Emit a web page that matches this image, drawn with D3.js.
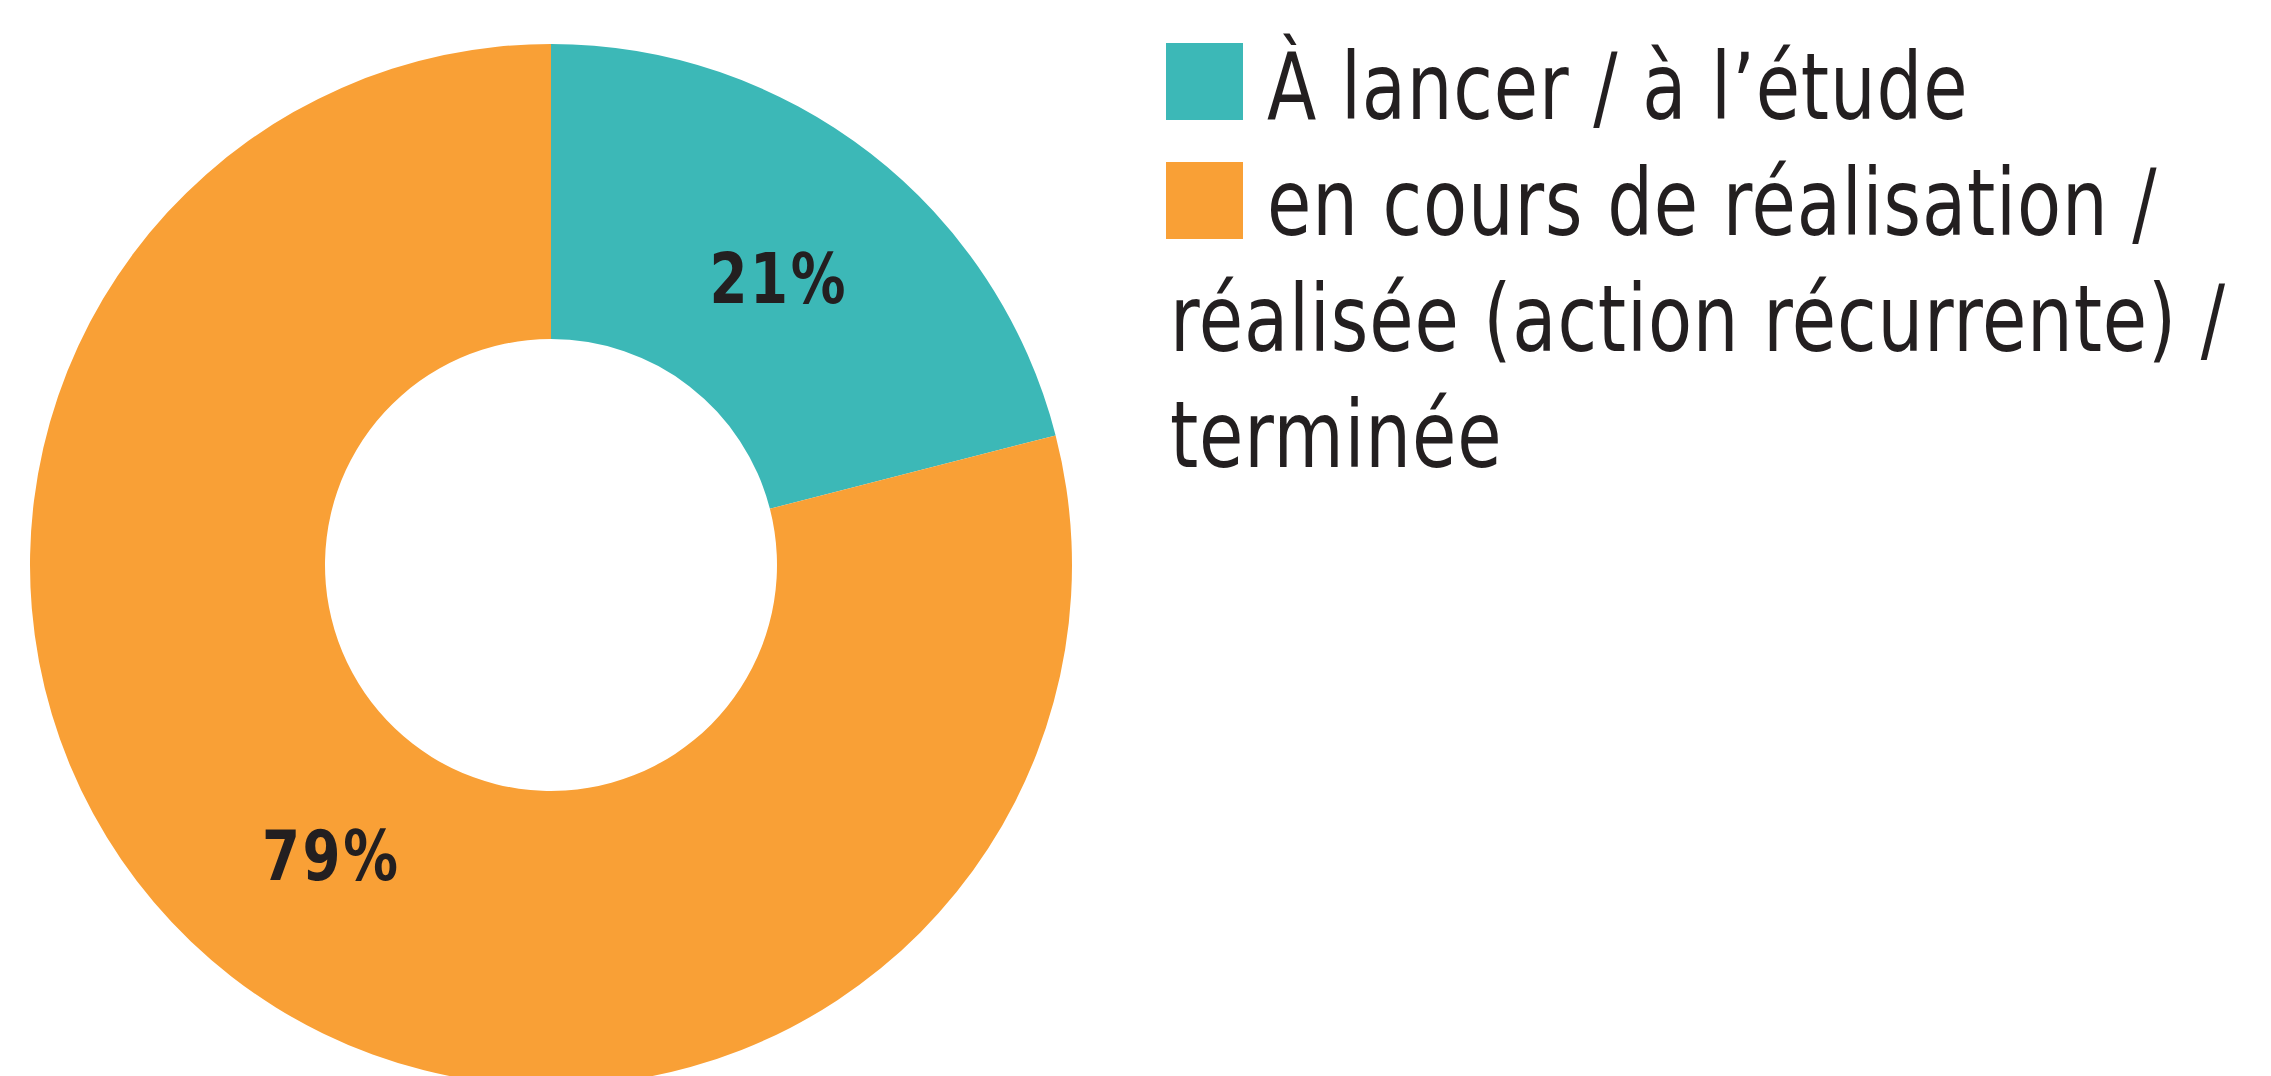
<!DOCTYPE html>
<html>
<head>
<meta charset="utf-8">
<script src="https://cdn.jsdelivr.net/npm/d3@7"></script>
<style>
  html, body { margin: 0; padding: 0; background: #fff; }
  svg { display: block; }
</style>
</head>
<body>
<div id="viz"></div>
<script>
// donut of action status, legend on the right

const categories = ["À lancer / à l’étude", "en cours de réalisation / réalisée (action récurrente) / terminée"];
const values = [21, 79];
const percentLabels = ["21%", "79%"];
const colors = ["#3cb8b7", "#f9a036"];
// legend text broken over lines like the original
const legendLines = [
    ["À lancer / à l’étude"],
    ["en cours de réalisation /", "réalisée (action récurrente) /", "terminée"]
];

function drawChart() {
    var dimensions = {
        width: 2271,
        height: 1076,
        cx: 551,
        cy: 565,
        outer: 521,
        inner: 226,
        labelR: 365
    }

    const fontStack = '"Liberation Sans Narrow", "DejaVu Sans Condensed", sans-serif';

    const viz = d3.select('#viz').append('svg')
        .attr('width', dimensions.width)
        .attr('height', dimensions.height)

    const donut = viz.append('g')
        .attr('transform', `translate(${dimensions.cx}, ${dimensions.cy})`)

    const pie = d3.pie().sort(null).value(d => d)
    const arcs = pie(values)

    const arc = d3.arc()
        .innerRadius(dimensions.inner)
        .outerRadius(dimensions.outer)

    const labelArc = d3.arc()
        .innerRadius(dimensions.labelR)
        .outerRadius(dimensions.labelR)

    const color = d3.scaleOrdinal()
        .domain(d3.range(values.length))
        .range(colors)

    donut.selectAll('path')
        .data(arcs)
        .enter()
        .append('path')
            .attr('d', arc)
            .attr('fill', (d, i) => color(i))

    //labels near the middle of each slice, squeezed to look condensed
    donut.selectAll('g.pct')
        .data(arcs)
        .enter()
        .append('g')
            .attr('class', 'pct')
            .attr('transform', d => `translate(${labelArc.centroid(d)[0] + 4}, ${labelArc.centroid(d)[1] + 2})`)
        .append('text')
            .attr('transform', 'scale(0.88, 1)')
            .attr('text-anchor', 'middle')
            .attr('dy', '0.36em')
            .attr('fill', '#231f20')
            .style('font-family', fontStack)
            .style('font-weight', 'bold')
            .style('font-size', '69px')
            .style('letter-spacing', '3px')
            .text((d, i) => percentLabels[i])

    // legend
    const legend = viz.append('g')
        .attr('transform', 'translate(1166, 43)')

    const swatch = 77;
    const lineStep = 116;
    let line = 0;
    const texts = [];

    legendLines.forEach((lines, i) => {
        const item = legend.append('g')
        item.append('rect')
            .attr('x', 0)
            .attr('y', line * lineStep + (i === 0 ? 0 : 3))
            .attr('width', swatch)
            .attr('height', swatch)
            .attr('fill', color(i))
        lines.forEach((t, j) => {
            const tx = item.append('text')
                .attr('x', j === 0 ? 101 : 4)
                .attr('y', line * lineStep + 76)
                .attr('fill', '#231f20')
                .style('font-family', fontStack)
                .style('font-size', '92px')
                .style('letter-spacing', '1px')
                .text(t)
            texts.push(tx)
            line++;
        })
    })

    // squeeze the legend type so the longest line is as wide as in the original
    const longest = d3.max(texts, t => t.node().getComputedTextLength())
    const squeeze = 1056 / longest
    texts.forEach(t => {
        const x = +t.attr('x')
        t.attr('transform', `translate(${x}, 0) scale(${squeeze}, 1) translate(${-x}, 0)`)
    })
}

drawChart();
</script>
</body>
</html>
